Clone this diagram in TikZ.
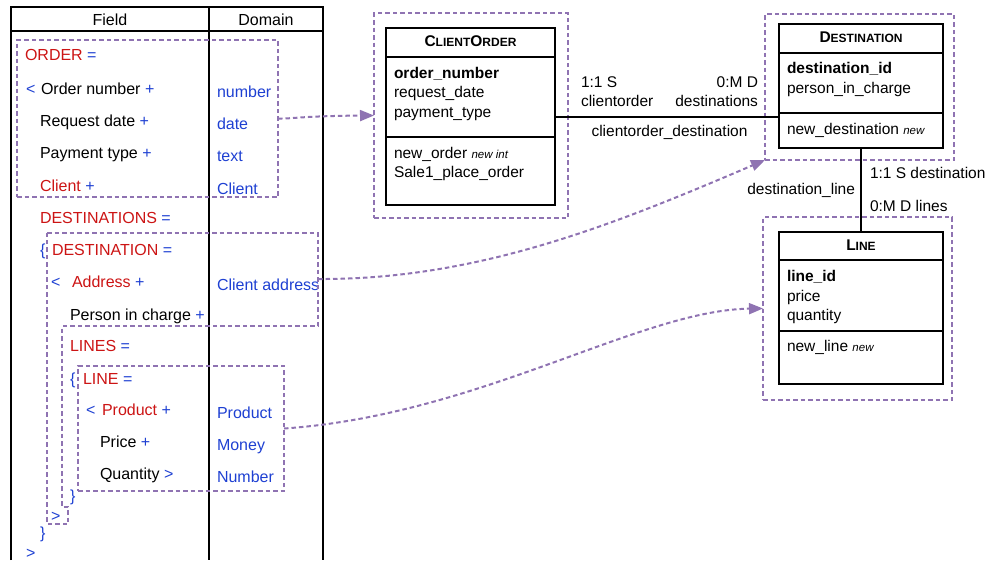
\documentclass[tikz,border=0pt]{standalone}
\usepackage{fontspec}
\setmainfont{Liberation Sans}
\usetikzlibrary{arrows.meta}
\definecolor{ored}{RGB}{204,20,20}
\definecolor{oblue}{RGB}{30,64,210}
\definecolor{grp}{RGB}{143,115,178}
\newcommand{\rd}[1]{\textcolor{ored}{#1}}
\newcommand{\bl}[1]{\textcolor{oblue}{#1}}
\newcommand{\fs}{\fontsize{15.5}{19}\selectfont}
\newcommand{\fl}{\fontsize{16}{19}\selectfont}
\newcommand{\sm}[1]{{\fontsize{12}{14}\selectfont #1}}
\newcommand{\smit}[1]{{\fontsize{11.5}{13}\selectfont\itshape #1}}
\begin{document}
\begin{tikzpicture}[x=1pt,y=-1pt,
  every node/.style={inner sep=0pt,outer sep=0pt,font=\fs},
  txt/.style={anchor=base west},
  ftx/.style={anchor=base west,font=\fl},
  dom/.style={anchor=base west,text=oblue,font=\fl},
  lbe/.style={anchor=base east},
  tab/.style={line width=1.6pt},
  grpline/.style={draw=grp,line width=2pt,dash pattern=on 4.5pt off 3pt},
  grpbox/.style={grpline,rectangle},
  flow/.style={draw=grp,line width=2pt,dash pattern=on 4.5pt off 3pt,-{Triangle[length=14pt,width=11pt,fill=grp]}},
  classbox/.style={draw,line width=1.8pt,rectangle},
  rel/.style={line width=2pt}]
\useasboundingbox (0,0) rectangle (988,560);

% table
\draw[tab] (11,560) -- (11,7) -- (323,7) -- (323,560);
\draw[tab] (11,31) -- (323,31);
\draw[tab] (209,7) -- (209,560);
\node[anchor=base,font=\fl] (hfield) at (110,25) {Field};
\node[anchor=base,font=\fl] (hdom) at (266,25) {Domain};

% field column
\node[ftx] (r1) at (25,60) {\rd{ORDER} \bl{=}};
\node[ftx] (r2a) at (26,94) {\bl{<}};
\node[ftx] (r2) at (41,94) {Order number \bl{+}};
\node[ftx] (r3) at (40,126) {Request date \bl{+}};
\node[ftx] (r4) at (40,158) {Payment type \bl{+}};
\node[ftx] (r5) at (40,191) {\rd{Client} \bl{+}};
\node[ftx] (r6) at (40,223) {\rd{DESTINATIONS} \bl{=}};
\node[ftx] (r7a) at (40,255) {\bl{\{}};
\node[ftx] (r7) at (52,255) {\rd{DESTINATION} \bl{=}};
\node[ftx] (r8a) at (51,287) {\bl{<}};
\node[ftx] (r8) at (72,287) {\rd{Address} \bl{+}};
\node[ftx] (r9) at (70,320) {Person in charge \bl{+}};
\node[ftx] (r10) at (70,351) {\rd{LINES} \bl{=}};
\node[ftx] (r11a) at (70,384) {\bl{\{}};
\node[ftx] (r11) at (83,384) {\rd{LINE} \bl{=}};
\node[ftx] (r12a) at (86,415) {\bl{<}};
\node[ftx] (r12) at (102,415) {\rd{Product} \bl{+}};
\node[ftx] (r13) at (100,447) {Price \bl{+}};
\node[ftx] (r14) at (100,479) {Quantity \bl{>}};
\node[ftx] (r15) at (70,501) {\bl{\}}};
\node[ftx] (r16) at (51,521) {\bl{>}};
\node[ftx] (r17) at (40,538) {\bl{\}}};
\node[ftx] (r18) at (26,558) {\bl{>}};

% domain column
\node[dom] (d1) at (217,97) {number};
\node[dom] (d2) at (217,129) {date};
\node[dom] (d3) at (217,161) {text};
\node[dom] (d4) at (217,194) {Client};
\node[dom] (d5) at (217,290) {Client address};
\node[dom] (d6) at (217,418) {Product};
\node[dom] (d7) at (217,450) {Money};
\node[dom] (d8) at (217,482) {Number};

% dashed groups in table
\node[grpbox,minimum width=261pt,minimum height=157pt] (ordergrp) at (147.5,118.5) {};
\draw[grpline] (47,233) -- (318,233) -- (318,326) -- (62,326) -- (62,507) -- (68,507) -- (68,524) -- (47,524) -- cycle;
\coordinate (destout) at (318,279);
\node[grpbox,minimum width=206pt,minimum height=125pt] (linegrpt) at (181,428.5) {};

% class ClientOrder
\node[grpbox,minimum width=194pt,minimum height=205pt] (cogrp) at (471,115.5) {};
\node[classbox,minimum width=169pt,minimum height=177pt] (co) at (470.5,116.5) {};
\draw[rel] ([yshift=-29pt]co.north west) -- ([yshift=-29pt]co.north east);
\draw[rel] ([yshift=-109pt]co.north west) -- ([yshift=-109pt]co.north east);
\node[anchor=base] (cot) at (470.5,46) {\bfseries C\sm{LIENT}O\sm{RDER}};
\node[txt] (co1) at (394,78) {\bfseries order\_number};
\node[txt] (co2) at (394,97.5) {request\_date};
\node[txt] (co3) at (394,117) {payment\_type};
\node[txt] (co4) at (394,158) {new\_order \smit{new int}};
\node[txt] (co5) at (394,177.5) {Sale1\_place\_order};

% class Destination
\node[grpbox,minimum width=189pt,minimum height=146pt] (destgrp) at (859.5,87) {};
\node[classbox,minimum width=164pt,minimum height=124pt] (dest) at (861,86) {};
\draw[rel] ([yshift=-29pt]dest.north west) -- ([yshift=-29pt]dest.north east);
\draw[rel] ([yshift=-89pt]dest.north west) -- ([yshift=-89pt]dest.north east);
\node[anchor=base] (dt) at (861,42.5) {\bfseries D\sm{ESTINATION}};
\node[txt] (de1) at (787,73.5) {\bfseries destination\_id};
\node[txt] (de2) at (787,93) {person\_in\_charge};
\node[txt] (de3) at (787,134) {new\_destination \smit{new}};

% class Line
\node[grpbox,minimum width=189pt,minimum height=183pt] (linegrp) at (857.5,308.5) {};
\node[classbox,minimum width=164pt,minimum height=152pt] (line) at (861,308) {};
\draw[rel] ([yshift=-28pt]line.north west) -- ([yshift=-28pt]line.north east);
\draw[rel] ([yshift=-99pt]line.north west) -- ([yshift=-99pt]line.north east);
\node[anchor=base] (lt) at (861,250) {\bfseries L\sm{INE}};
\node[txt] (li1) at (787,281.5) {\bfseries line\_id};
\node[txt] (li2) at (787,301.5) {price};
\node[txt] (li3) at (787,320.5) {quantity};
\node[txt] (li4) at (787,351.5) {new\_line \smit{new}};

% relationships
\draw[rel] (co.east) -- (co.east -| dest.west);
\draw[rel] (dest.south) -- (line.north);
\node[txt] (l1) at (581,87.3) {1:1 S};
\node[txt] (l2) at (581,106.7) {clientorder};
\node[lbe] (l3) at (758,87.3) {0:M D};
\node[lbe] (l4) at (758,106.7) {destinations};
\node[anchor=base] (l5) at (669.5,136.7) {clientorder\_destination};
\node[txt] (l6) at (870,178.5) {1:1 S destination};
\node[txt] (l7) at (870,211) {0:M D lines};
\node[lbe] (l8) at (855,194.3) {destination\_line};

% mapping arrows
\draw[flow] (ordergrp.east) .. controls (292,119) and (300,116) .. (cogrp.west);
\draw[flow] (destout) .. controls (480,280) and (620,222) .. (destgrp.south west);
\draw[flow] (linegrpt.east) .. controls (480,415) and (640,310) .. (linegrp.west);
\end{tikzpicture}
\end{document}
